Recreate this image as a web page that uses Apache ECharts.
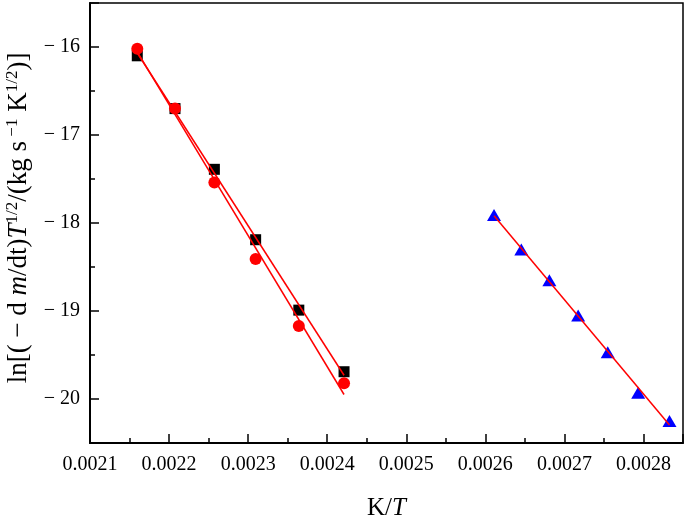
<!DOCTYPE html>
<html>
<head>
<meta charset="utf-8">
<script src="https://cdn.jsdelivr.net/npm/echarts@6/dist/echarts.min.js"></script>
<style>
  html, body { margin: 0; padding: 0; background: #fff; }
  #main { width: 685px; height: 523px; }
</style>
</head>
<body>
<div id="main"></div>
<script>
// x = K/T for each temperature, y = ln[(-dm/dt) T^1/2]
const xHigh = [0.0021598, 0.0022075, 0.0022573, 0.0023095, 0.0023641, 0.0024213];
const ySquare = [-16.10, -16.70, -17.39, -18.19, -18.99, -19.69];
const yCircle = [-16.02, -16.70, -17.54, -18.41, -19.17, -19.82];

const xLow = [0.0026110, 0.0026455, 0.0026810, 0.0027174, 0.0027548, 0.0027933, 0.0028329];
const yTriangle = [-17.91, -18.30, -18.65, -19.05, -19.47, -19.93, -20.25];

const fontFam = 'Liberation Serif';

// least squares line, drawn between first and last x
let fitLine = function(xs, ys) {
    const n = xs.length;
    let mx = 0, my = 0;
    for (let i = 0; i < n; i++) { mx += xs[i]; my += ys[i]; }
    mx /= n; my /= n;
    let sxy = 0, sxx = 0;
    for (let i = 0; i < n; i++) {
        sxy += (xs[i] - mx) * (ys[i] - my);
        sxx += (xs[i] - mx) * (xs[i] - mx);
    }
    const k = sxy / sxx;
    const x0 = Math.min.apply(null, xs), x1 = Math.max.apply(null, xs);
    return [[x0, my + k * (x0 - mx)], [x1, my + k * (x1 - mx)]];
};

let pairs = function(xs, ys) {
    return xs.map((x, i) => [x, ys[i]]);
};

let lineSeries = function(data) {
    return {
        type: 'line',
        data: data,
        symbol: 'none',
        z: 5,
        lineStyle: { color: '#ff0000', width: 1.5 }
    };
};

const chart = echarts.init(document.getElementById('main'));

const option = {
    animation: false,
    backgroundColor: '#fff',
    grid: {
        left: 90, right: 2, top: 3, bottom: 80,
        outerBoundsMode: 'none',
        show: true,
        borderColor: '#000',
        borderWidth: 1.5
    },
    xAxis: {
        type: 'value',
        min: 0.0021,
        max: 0.00285,
        interval: 0.0001,
        name: '{n|K/}{i|T}',
        nameLocation: 'middle',
        nameGap: 53,
        nameTextStyle: {
            rich: {
                n: { fontFamily: fontFam, fontSize: 25, color: '#000' },
                i: { fontFamily: fontFam, fontSize: 25, color: '#000', fontStyle: 'italic' }
            }
        },
        axisLine: { lineStyle: { color: '#000', width: 2 } },
        axisTick: { inside: true, length: 9, lineStyle: { color: '#000', width: 1.5 } },
        minorTick: { show: true, splitNumber: 2, length: 5, lineStyle: { color: '#000', width: 1.5 } },
        splitLine: { show: false },
        axisLabel: {
            showMaxLabel: false,
            margin: 12,
            fontFamily: fontFam,
            fontSize: 20,
            color: '#000',
            formatter: v => v.toFixed(4)
        }
    },
    yAxis: {
        type: 'value',
        min: -20.5,
        max: -15.5,
        splitNumber: 5,
        name: '{n|ln[( \u2212 d }{i|m}{n|/dt)}{i|T}{s|1/2}{n|/(kg s}{s| \u22121}{n| K}{s|1/2}{n|)]}',
        nameLocation: 'middle',
        nameRotate: 90,
        nameGap: 45,
        nameTextStyle: {
            padding: [0, 0, 0, 10],
            rich: {
                n: { fontFamily: fontFam, fontSize: 27, color: '#000', lineHeight: 30 },
                i: { fontFamily: fontFam, fontSize: 27, color: '#000', fontStyle: 'italic', lineHeight: 30 },
                s: { fontFamily: fontFam, fontSize: 17, color: '#000', verticalAlign: 'top' }
            }
        },
        axisLine: { lineStyle: { color: '#000', width: 2 } },
        axisTick: { inside: true, length: 9, lineStyle: { color: '#000', width: 1.5 } },
        minorTick: { show: true, splitNumber: 2, length: 5, lineStyle: { color: '#000', width: 1.5 } },
        splitLine: { show: false },
        axisLabel: {
            showMinLabel: false,
            showMaxLabel: false,
            margin: 10,
            fontFamily: fontFam,
            fontSize: 20,
            color: '#000',
            formatter: v => '\u2212 ' + Math.abs(v)
        }
    },
    series: [
        {
            type: 'scatter',
            data: pairs(xHigh, ySquare),
            symbol: 'rect',
            symbolSize: 11,
            z: 2,
            itemStyle: { color: '#000', opacity: 1 }
        },
        {
            type: 'scatter',
            data: pairs(xHigh, yCircle),
            symbol: 'circle',
            symbolSize: 12,
            z: 3,
            itemStyle: { color: '#ff0000', opacity: 1 }
        },
        {
            type: 'scatter',
            data: pairs(xLow, yTriangle),
            symbol: 'triangle',
            symbolSize: [14, 12],
            z: 3,
            itemStyle: { color: '#0000ff', opacity: 1 }
        },
        lineSeries(fitLine(xHigh, ySquare)),
        lineSeries(fitLine(xHigh, yCircle)),
        lineSeries(fitLine(xLow, yTriangle))
    ]
};

chart.setOption(option);
</script>
</body>
</html>
